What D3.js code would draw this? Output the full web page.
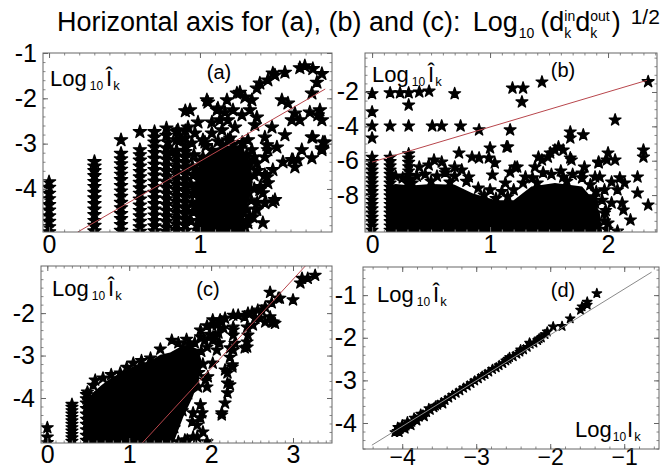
<!DOCTYPE html>
<html>
<head>
<meta charset="utf-8">
<script src="https://cdn.jsdelivr.net/npm/d3@7"></script>
<style>
  body { margin: 0; background: #fff; }
  svg text { font-family: "Liberation Sans", Arial, Helvetica, sans-serif; fill: #000; }
</style>
</head>
<body>
<svg id="chart" width="667" height="472"></svg>
<script>
// ---- tick values ----
const aXTicks = [0, 1], aYTicks = [-1, -2, -3, -4];
const bXTicks = [0, 1, 2], bYTicks = [-2, -4, -6, -8];
const cXTicks = [0, 1, 2, 3], cYTicks = [-2, -3, -4];
const dXTicks = [-4, -3, -2, -1], dYTicks = [-1, -2, -3, -4];

// ---- panel (a) ----
const aColumns = [
  [0, [-3.85, -3.97, -4.1, -4.22, -4.35, -4.47, -4.6, -4.72, -4.84, -4.95]],
  [0.301, [-3.4, -3.5, -3.6, -3.71, -3.84, -3.95, -4.08, -4.2, -4.33, -4.45, -4.57, -4.7, -4.81, -4.93]],
  [0.477, [-2.92, -3.22, -3.34, -3.45, -3.57, -3.68, -3.8, -3.93, -4.05, -4.17, -4.3, -4.42, -4.55, -4.66, -4.79, -4.92]],
  [0.602, [-2.74, -3.14, -3.25, -3.37, -3.5, -3.62, -3.74, -3.86, -3.98, -4.1, -4.23, -4.36, -4.48, -4.6, -4.72, -4.84, -4.94]],
  [0.699, [-2.74, -2.86, -2.97, -3.08, -3.2, -3.33, -3.46, -3.58, -3.7, -3.83, -3.95, -4.08, -4.2, -4.33, -4.45, -4.58, -4.7, -4.82, -4.93]],
  [0.778, [-2.66, -2.82, -3.1, -3.22, -3.35, -3.48, -3.6, -3.72, -3.85, -3.97, -4.1, -4.22, -4.35, -4.48, -4.6, -4.72, -4.85, -4.94]],
  [0.845, [-2.74, -2.92, -3.15, -3.28, -3.4, -3.52, -3.65, -3.78, -3.9, -4.02, -4.15, -4.28, -4.4, -4.52, -4.65, -4.78, -4.9]],
  [0.903, [-2.28, -2.72, -2.88, -3.05, -3.18, -3.3, -3.42, -3.55, -3.68, -3.8, -3.93, -4.05, -4.18, -4.3, -4.43, -4.55, -4.68, -4.8, -4.92]]
];
const aStars = [
  [1.695, -1.29], [1.662, -1.33], [1.748, -1.35], [1.808, -1.46], [1.775, -1.65], [1.563, -1.43], [1.497, -1.49],
  [1.45, -1.6], [1.397, -1.67], [1.377, -1.78], [1.265, -1.87], [1.245, -1.89], [1.298, -1.98], [1.344, -2.04],
  [1.543, -2.04], [1.583, -2.11], [1.742, -1.89], [1.728, -2.31], [1.781, -2.37], [1.629, -2.33], [1.609, -2.48],
  [1.477, -2.64], [1.43, -2.86], [1.563, -2.81], [1.742, -2.86], [1.828, -2.97], [1.808, -3.1], [1.675, -3.14],
  [1.649, -3.36], [1.609, -3.36], [1.742, -3.32], [1.51, -3.08], [1.45, -3.14], [1.444, -3.03],
  [1.046, -2.04], [1.119, -2.22], [0.934, -2.26], [0.987, -2.53], [1.079, -2.53], [1.166, -2.31], [1.185, -2.48],
  [1.278, -2.37], [1.331, -2.26], [1.377, -2.42], [1.364, -2.59], [1.232, -2.64], [1.146, -2.7], [1.079, -2.77],
  [0.967, -2.77], [0.921, -2.64], [1.033, -2.97], [1.185, -2.92], [1.318, -2.92], [1.344, -3.14], [1.43, -3.3],
  [1.377, -3.43], [1.43, -3.69], [1.45, -3.87], [1.397, -4.02], [1.497, -4.24], [1.43, -4.31], [1.377, -4.46],
  [1.285, -4.53], [1.318, -4.75], [1.232, -4.84], [1.166, -4.75], [1.099, -4.84], [1.033, -4.9],
  [1.483, -1.45], [1.053, -2.09], [1.179, -2.04], [1.113, -2.26], [1.219, -2.26], [1.132, -2.48], [1.662, -2.48],
  [1.795, -2.26], [1.808, -2.48], [1.748, -2.86], [1.815, -2.97], [1.808, -3.14], [1.616, -3.36], [1.629, -3.52],
  [1.55, -3.41], [1.483, -3.58], [1.444, -3.74], [1.483, -4.29], [1.417, -4.09], [1.351, -4.62], [1.417, -4.75],
  [1.265, -4.84], [1.199, -4.9], [0.854, -2.7], [0.868, -2.92], [0.788, -2.97], [0.947, -2.99], [1.02, -2.92], [0.815, -3.19],
  [0.96, -3.25], [1.04, -3.05], [1.12, -2.95], [1.2, -2.88], [1.28, -2.98], [1.36, -3.3], [1.38, -3.6], [1.4, -3.95],
  [1.38, -4.3], [1.33, -4.6], [1.3, -4.85], [0.95, -3.5], [0.94, -3.9], [0.95, -4.3], [0.94, -4.7], [0.99, -4.92], [1.25, -4.92],
  [0.954, -3.7], [0.954, -4.1], [0.954, -4.5], [1.0, -3.4], [1.0, -3.8], [1.0, -4.6],
  [1.02, -3.3], [1.08, -3.15], [1.15, -3.05], [1.22, -3.02], [1.27, -3.1], [1.31, -3.25], [1.33, -3.45],
  [1.36, -3.7], [1.36, -4.0], [1.34, -4.25], [1.31, -4.45], [1.28, -4.7], [0.98, -3.6], [0.97, -4.0], [0.97, -4.4], [0.98, -4.8]
];
const aBlob = [
  [0.97, -4.95], [0.97, -3.7], [1.0, -3.4], [1.05, -3.2], [1.12, -3.08], [1.2, -3.04], [1.28, -3.12],
  [1.32, -3.3], [1.34, -3.55], [1.35, -3.85], [1.33, -4.2], [1.29, -4.55], [1.24, -4.95]
];
const aFit = [[0.19, -4.95], [1.83, -1.795]];

// ---- panel (b) ----
const bColumns = [
  [0, [-2.1, -3.16, -3.98, -4.68, -5.8, -6.05, -6.3, -6.55, -6.8, -7.05, -7.3, -7.55, -7.8, -8.05, -8.3, -8.55, -8.8, -9.05, -9.3, -9.55, -9.8, -10.05]],
  [0.153, [-2.05, -3.98, -5.8, -6.05, -6.3, -6.55, -6.8, -7.05, -7.3, -7.55, -7.8, -8.05, -8.3, -8.55, -8.8, -9.05, -9.3, -9.55, -9.8, -10.05]],
  [0.31, [-2.05, -2.76, -3.98, -5.6, -5.85, -6.1, -6.35, -6.6, -6.85, -7.1, -7.35]]
];
const bStars = [
  [0.70, -2.1], [0.40, -2.0], [0.483, -1.95], [0.237, -2.05], [0.51, -3.98], [0.59, -3.98], [0.75, -3.98],
  [0.907, -4.21], [1.19, -1.77], [1.28, -1.77], [1.27, -2.58], [1.44, -1.42], [2.34, -1.4], [2.06, -3.63],
  [1.68, -4.33], [1.68, -4.68], [1.79, -4.5], [1.17, -4.21], [1.15, -5.2], [1.23, -6.37], [2.30, -5.38],
  [2.30, -5.79], [2.34, -8.58], [2.25, -6.95], [2.25, -7.88], [2.19, -9.45], [2.08, -10.1], [2.1, -7.0],
  [2.0, -5.55], [2.06, -5.96], [1.92, -6.13], [1.93, -6.95], [2.12, -8.46], [2.13, -8.87],
  [0.737, -5.55], [0.847, -5.79], [0.907, -5.84], [1.0, -5.26], [0.99, -5.84], [1.04, -6.13], [1.14, -5.2],
  [0.70, -6.37], [0.59, -6.08], [0.48, -6.25], [0.4, -6.37], [0.525, -5.96], [0.62, -6.54], [0.76, -6.54],
  [0.82, -6.95], [1.02, -6.83], [1.17, -6.66], [1.13, -7.3],
  [1.44, -5.96], [1.49, -5.79], [1.55, -5.38], [1.62, -5.38], [1.58, -5.2], [1.51, -5.55], [1.68, -5.84], [1.41, -5.79],
  [1.69, -5.96], [1.38, -6.37], [1.30, -6.95], [1.21, -6.37], [1.8, -6.37], [1.92, -6.08], [1.99, -5.96],
  [1.62, -6.95], [1.78, -6.72], [1.89, -6.95], [2.03, -7.24], [2.14, -7.3], [1.97, -7.7], [2.08, -7.7],
  [2.03, -8.46], [1.97, -9.05], [2.0, -9.63], [1.89, -8.46], [1.83, -9.28],
  [0.2, -6.9], [0.26, -7.0], [0.38, -6.9], [0.45, -6.8], [0.55, -6.9], [0.62, -6.7], [0.7, -6.9], [0.8, -7.2],
  [0.9, -7.6], [1.0, -7.7], [1.1, -7.8], [1.2, -7.7], [1.28, -7.3], [1.36, -7.0], [1.45, -6.7], [1.52, -6.8],
  [1.6, -6.6], [1.7, -6.8], [1.78, -7.0], [1.85, -7.4], [1.9, -7.8], [1.95, -8.3], [1.98, -8.9], [1.97, -9.5], [1.99, -10.0],
  [0.34, -7.3], [0.5, -7.2], [0.66, -7.25], [0.95, -8.0], [1.05, -8.2], [1.15, -8.1], [1.4, -7.3], [1.65, -7.2], [1.88, -8.1]
];
const bBlob = [
  [0.12, -10.15], [0.12, -7.5], [0.2, -7.35], [0.33, -7.45], [0.5, -7.35], [0.7, -7.4], [0.85, -7.9], [1.05, -8.3],
  [1.2, -8.3], [1.35, -7.5], [1.55, -7.3], [1.78, -7.5], [1.88, -8.3], [1.93, -9.0], [1.95, -10.15]
];
const bFit = [[0, -6.08], [2.33, -1.32]];

// ---- panel (c) ----
const cColumns = [
  [0, [-4.7, -4.92, -5.05]],
  [0.301, [-4.15, -4.22, -4.3, -4.38, -4.46, -4.54, -4.62, -4.7, -4.78, -4.86, -4.94, -5.02]],
  [0.477, [-3.92, -4.02, -4.12, -4.25, -4.38, -4.5, -4.62, -4.75, -4.88, -5.0]]
];
const cStars = [
  [3.27, -1.11], [3.18, -1.18], [3.11, -1.18], [3.09, -1.29], [3.0, -1.69], [2.82, -1.65], [2.84, -1.65], [2.72, -1.51],
  [2.74, -1.76], [2.66, -1.86], [2.57, -1.93], [2.74, -2.21], [2.78, -2.24], [2.76, -2.21], [2.72, -2.09], [2.6, -2.12],
  [2.66, -2.21], [2.54, -2.12], [2.51, -2.28], [2.41, -2.09], [2.33, -2.05], [2.45, -2.0], [2.5, -1.98], [2.62, -1.95],
  [2.27, -2.05], [2.17, -2.12], [2.11, -2.16], [2.13, -2.21], [2.27, -2.4], [2.27, -2.33], [2.44, -2.33], [2.15, -2.35],
  [2.45, -2.52], [2.44, -2.68], [2.41, -2.82], [2.44, -2.8], [2.29, -2.71], [2.27, -2.52], [2.27, -2.87], [2.23, -2.82],
  [2.23, -3.04], [2.26, -3.22], [2.26, -3.27], [2.17, -3.34], [2.2, -3.41], [2.2, -3.65], [2.23, -3.69], [2.2, -3.88],
  [2.17, -4.12], [2.13, -4.4], [2.13, -4.35], [2.09, -2.47], [2.07, -2.28], [2.02, -2.16], [2.01, -2.28], [1.95, -2.3],
  [1.98, -2.5], [2.05, -2.55], [1.92, -2.65], [2.1, -2.7], [1.87, -2.4], [1.87, -2.56], [2.02, -2.64], [1.95, -2.8],
  [2.07, -2.87], [1.74, -2.75], [2.02, -3.18], [1.96, -3.5], [1.95, -3.74], [1.93, -3.58], [1.84, -3.74], [1.87, -4.16],
  [1.87, -4.47], [1.77, -4.56], [1.78, -4.35], [1.89, -4.35], [1.83, -4.64], [1.9, -4.8], [1.95, -5.03], [1.83, -4.92],
  [1.78, -4.92], [1.71, -4.99], [1.68, -4.99], [1.6, -5.03],
  [1.52, -2.64], [1.66, -2.8], [1.26, -3.06], [1.05, -3.18], [0.89, -3.41], [0.68, -3.53], [0.585, -3.58], [0.49, -3.86],
  [1.38, -2.85], [1.6, -2.7], [1.7, -2.62], [1.8, -2.7], [1.88, -2.9], [1.9, -3.2], [1.85, -3.4], [0.78, -3.45],
  [1.15, -3.12], [0.97, -3.28], [0.56, -3.7], [1.72, -3.9], [1.65, -4.3], [1.55, -4.7]
];
const cBlob = [
  [0.46, -5.06], [0.46, -4.15], [0.55, -3.88], [0.66, -3.7], [0.78, -3.52], [0.93, -3.38], [1.08, -3.22],
  [1.26, -3.12], [1.38, -2.98], [1.5, -2.93], [1.62, -2.8], [1.74, -2.76], [1.84, -2.86], [1.89, -3.15],
  [1.85, -3.58], [1.77, -4.0], [1.66, -4.45], [1.54, -5.06]
];
const cFit = [[1.16, -5.06], [3.15, -0.89]];

// ---- panel (d) ----
const dStars = [
  [-1.37, -0.96], [-1.50, -1.16], [-1.50, -1.23], [-1.57, -1.27], [-1.59, -1.35], [-1.73, -1.55], [-1.84, -1.73],
  [-1.96, -1.74], [-2.04, -1.86], [-2.07, -1.92], [-2.12, -2.0], [-2.17, -2.06], [-2.22, -2.12], [-2.27, -2.15],
  [-2.31, -2.22], [-2.36, -2.28], [-2.41, -2.33], [-2.45, -2.38], [-2.5, -2.44], [-2.55, -2.46], [-2.6, -2.54],
  [-2.64, -2.6], [-2.69, -2.65], [-2.73, -2.7], [-2.78, -2.74], [-2.83, -2.8], [-2.88, -2.86], [-2.92, -2.9],
  [-2.97, -2.96], [-3.02, -3.01], [-3.07, -3.07], [-3.12, -3.13], [-3.17, -3.18], [-3.22, -3.24], [-3.27, -3.3],
  [-3.32, -3.35], [-3.37, -3.41], [-3.42, -3.47], [-3.47, -3.52], [-3.52, -3.58], [-3.57, -3.64], [-3.62, -3.7],
  [-3.67, -3.75], [-3.72, -3.81], [-3.77, -3.86], [-3.82, -3.92], [-3.87, -3.98], [-3.91, -4.03], [-3.95, -4.07],
  [-3.99, -4.11], [-4.03, -4.15], [-4.07, -4.19], [-4.1, -4.22], [-4.06, -4.1], [-4.0, -4.04], [-3.93, -3.97],
  [-3.84, -3.88], [-3.75, -3.79], [-3.64, -3.66], [-4.04, -4.22], [-3.96, -4.14], [-2.4, -2.28], [-2.28, -2.12],
  [-2.57, -2.5], [-2.15, -2.02], [-3.88, -4.06], [-3.8, -3.95], [-3.7, -3.85], [-3.55, -3.6], [-3.45, -3.55]
];
const dFit = [[-4.41, -4.52], [-0.63, -0.46]];

// ---- layout (pixels) ----
const panels = [
  { tag: '(a)', box: [43, 53, 332, 232], xDom: [-0.04, 1.875], yDom: [-4.95, -1.0], xT: aXTicks, yT: aYTicks,
    xMinor: 0.1, yMinor: 0.2, star: 54, cols: aColumns, stars: aStars, blob: aBlob, fit: aFit, fitColor: '#b8464c',
    label: [50, 86], tagPos: [219, 79], xPad: 3, xFont: 25 },
  { tag: '(b)', box: [365, 53, 657, 232], xDom: [-0.06, 2.415], yDom: [-10.15, 0.27], xT: bXTicks, yT: bYTicks,
    xMinor: 0.1, yMinor: 0.5, star: 44, cols: bColumns, stars: bStars, blob: bBlob, fit: bFit, fitColor: '#b8464c',
    label: [372, 82], tagPos: [563, 77], xPad: 3, xFont: 25 },
  { tag: '(c)', box: [41, 266, 332, 443], xDom: [-0.077, 3.476], yDom: [-5.06, -0.89], xT: cXTicks, yT: cYTicks,
    xMinor: 0.1, yMinor: 0.2, star: 44, cols: cColumns, stars: cStars, blob: cBlob, fit: cFit, fitColor: '#b8464c',
    label: [52, 296], tagPos: [208, 296], xPad: 2, xFont: 25 },
  { tag: '(d)', box: [363, 267, 659, 449], xDom: [-4.53, -0.53], yDom: [-4.61, -0.34], xT: dXTicks, yT: dYTicks,
    xMinor: 0.2, yMinor: 0.2, star: 28, cols: [], stars: dStars, blob: null, fit: dFit, fitColor: '#8a8a8a',
    label: [377, 302], tagPos: [563, 297], xPad: 0, xFont: 23 }
];

const svg = d3.select('#chart');

// rich text: pieces laid out left to right, measured as they go
function rich(g, x, y, parts) {
  let cx = x;
  parts.forEach(p => {
    cx += p.pre || 0;
    const items = p.stack || [p];
    let w = 0;
    items.forEach(it => {
      const t = g.append('text')
        .attr('x', cx).attr('y', y + (it.dy || 0))
        .attr('font-size', it.size).text(it.t);
      w = Math.max(w, t.node().getComputedTextLength());
    });
    cx += w;
  });
}

// title
rich(svg, 57, 31, [
  { t: 'Horizontal axis for (a), (b) and (c):', size: 27 },
  { t: 'Log', size: 27, pre: 12 },
  { t: '10', size: 14, dy: 7, pre: 1 },
  { t: '(d', size: 27, pre: 6 },
  { stack: [{ t: 'in', size: 14, dy: -10 }, { t: 'k', size: 14, dy: 7 }] },
  { t: 'd', size: 27 },
  { stack: [{ t: 'out', size: 14, dy: -10 }, { t: 'k', size: 14, dy: 7 }] },
  { t: ')', size: 27, pre: 2 },
  { t: '1/2', size: 21, dy: -7, pre: 10 }
]);

panels.forEach((p, i) => {
  const [x0, y0, x1, y1] = p.box;
  const x = d3.scaleLinear().domain(p.xDom).range([x0, x1]);
  const y = d3.scaleLinear().domain(p.yDom).range([y1, y0]);
  const g = svg.append('g');

  const clipId = 'clip' + i;
  svg.append('clipPath').attr('id', clipId)
    .append('rect').attr('x', x0).attr('y', y0).attr('width', x1 - x0).attr('height', y1 - y0);
  const plot = g.append('g').attr('clip-path', `url(#${clipId})`);

  if (p.blob) {
    plot.append('path')
      .attr('d', d3.line().x(d => x(d[0])).y(d => y(d[1]))(p.blob) + 'Z')
      .attr('fill', '#000');
  }

  const pts = [];
  p.cols.forEach(([cx, ys]) => ys.forEach(v => pts.push([cx, v])));
  p.stars.forEach(d => pts.push(d));
  const star = d3.symbol(d3.symbolStar, p.star);
  plot.selectAll('path.star').data(pts).join('path')
    .attr('class', 'star')
    .attr('transform', d => `translate(${x(d[0])},${y(d[1])})`)
    .attr('d', star)
    .attr('fill', '#000')
    .attr('stroke', '#000').attr('stroke-width', 1.3).attr('stroke-linejoin', 'round');

  plot.append('path')
    .attr('d', d3.line().x(d => x(d[0])).y(d => y(d[1]))(p.fit))
    .attr('stroke', p.fitColor).attr('stroke-width', 1).attr('fill', 'none');

  // minor ticks all round
  const xm = d3.range(Math.ceil(p.xDom[0] / p.xMinor) * p.xMinor, p.xDom[1], p.xMinor);
  const ym = d3.range(Math.ceil(p.yDom[0] / p.yMinor) * p.yMinor, p.yDom[1], p.yMinor);
  const minorAxes = [
    [d3.axisBottom(x).tickValues(xm), `translate(0,${y1})`],
    [d3.axisTop(x).tickValues(xm), `translate(0,${y0})`],
    [d3.axisLeft(y).tickValues(ym), `translate(${x0},0)`],
    [d3.axisRight(y).tickValues(ym), `translate(${x1},0)`]
  ];
  minorAxes.forEach(([ax, tr]) => {
    const ag = g.append('g').attr('transform', tr)
      .call(ax.tickSize(-2.5).tickFormat(''));
    ag.select('.domain').remove();
    ag.selectAll('line').attr('stroke', '#888');
  });

  // major ticks
  const majorAxes = [
    [d3.axisBottom(x).tickValues(p.xT).tickPadding(p.xPad).tickFormat(d3.format('d')), `translate(0,${y1})`, p.xFont],
    [d3.axisTop(x).tickValues(p.xT).tickFormat(''), `translate(0,${y0})`, 25],
    [d3.axisLeft(y).tickValues(p.yT).tickPadding(6).tickFormat(v => String(v)), `translate(${x0},0)`, 25],
    [d3.axisRight(y).tickValues(p.yT).tickFormat(''), `translate(${x1},0)`, 25]
  ];
  majorAxes.forEach(([ax, tr, fs]) => {
    const ag = g.append('g').attr('transform', tr)
      .call(ax.tickSize(-5))
      .attr('font-family', null).attr('font-size', null);
    ag.select('.domain').remove();
    ag.selectAll('line').attr('stroke', '#666');
    ag.selectAll('text').attr('font-size', fs).attr('fill', '#000');
  });

  g.append('rect')
    .attr('x', x0).attr('y', y0).attr('width', x1 - x0).attr('height', y1 - y0)
    .attr('fill', 'none').attr('stroke', '#666').attr('stroke-width', 1);

  // inner labels
  rich(g, p.label[0], p.label[1], [
    { t: 'Log', size: 22 },
    { t: '10', size: 12, dy: 4, pre: 3 },
    { t: '\u00CE', size: 22, pre: 3 },
    { t: 'k', size: 13, dy: 4, pre: 1 }
  ]);
  g.append('text').attr('x', p.tagPos[0]).attr('y', p.tagPos[1])
    .attr('text-anchor', 'middle').attr('font-size', 20).text(p.tag);

  if (p.tag === '(d)') {
    rich(g, 575, 437, [
      { t: 'Log', size: 22 },
      { t: '10', size: 12, dy: 4, pre: 1 },
      { t: 'I', size: 22, pre: 1 },
      { t: 'k', size: 13, dy: 4, pre: 1 }
    ]);
  }
});
</script>
</body>
</html>
